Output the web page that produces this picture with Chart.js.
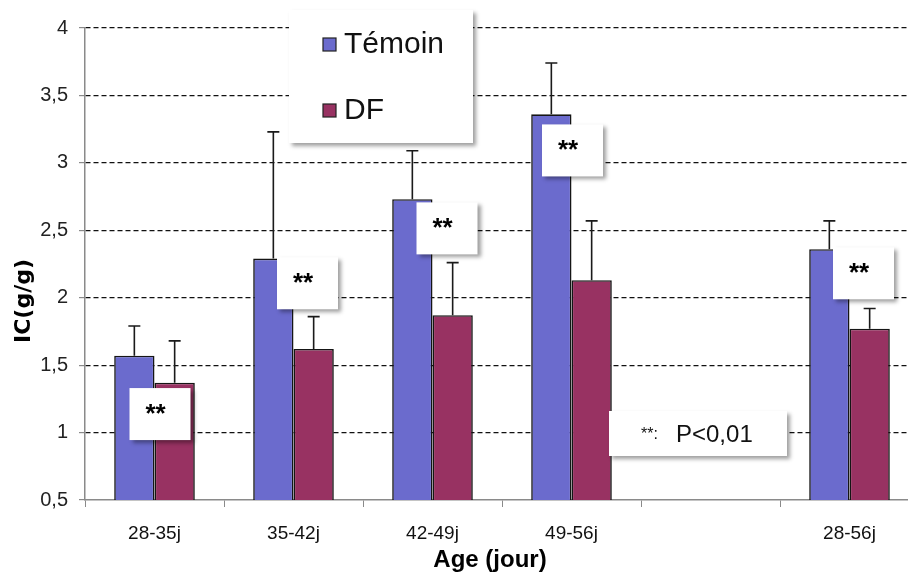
<!DOCTYPE html>
<html><head><meta charset="utf-8">
<script src="https://cdn.jsdelivr.net/npm/chart.js@4.4.1/dist/chart.umd.min.js"></script>
<style>html,body{margin:0;padding:0;overflow:hidden;background:#fff;width:908px;height:575px}#wrap{position:absolute;left:0;top:0;width:920px;height:575px}</style>
</head><body><div id="wrap"><canvas id="c" width="920" height="575"></canvas></div>
<script>
const categories = ['28-35j','35-42j','42-49j','49-56j','','28-56j'];
const seriesNames = ['Témoin','DF'];
const temoinValues = [1.57,2.29,2.73,3.36,null,2.36];
const temoinErrors = [0.22,0.94,0.36,0.38,null,0.21];
const dfValues = [1.37,1.62,1.87,2.13,null,1.77];
const dfErrors = [0.31,0.24,0.39,0.44,null,0.15];
const yTicks = [0.5,1,1.5,2,2.5,3,3.5,4];
const yTickLabels = ['0,5','1','1,5','2','2,5','3','3,5','4'];
const sigLabel = '**';
const noteStars = '**:';
const noteText = 'P<0,01';
const yTitle = 'IC(g/g)';
const xTitle = 'Age (jour)';

// annotation placement (category index, value of box top, pixel offset)
const sigBoxes = [{i:0,v:1.33,dx:-25},{i:1,v:2.30,dx:-16.5},{i:2,v:2.707,dx:-16},{i:3,v:3.285,dx:-29.5},{i:5,v:2.374,dx:-16.5}];

const colors = ['#6b6bcd','#983262'];
const errors = [temoinErrors, dfErrors];

function shadowBox(ctx,x,y,w,h){
  ctx.save();
  ctx.shadowColor='rgba(0,0,0,0.38)';
  ctx.shadowBlur=4; ctx.shadowOffsetX=3; ctx.shadowOffsetY=3;
  ctx.fillStyle='#fff';
  ctx.fillRect(x,y,w,h);
  ctx.restore();
}

const extras = {
  id:'extras',
  afterDatasetsDraw(chart){
    const ctx=chart.ctx, ys=chart.scales.y;
    chart.data.datasets.forEach((ds,di)=>{
      const meta=chart.getDatasetMeta(di);
      meta.data.forEach((bar,i)=>{
        const v=ds.data[i], e=errors[di][i];
        if(v==null||e==null) return;
        const top=ys.getPixelForValue(v+e);
        ctx.save();
        ctx.strokeStyle='#1a1a1a'; ctx.lineWidth=1.6;
        ctx.beginPath();
        ctx.moveTo(bar.x,bar.y); ctx.lineTo(bar.x,top);
        ctx.moveTo(bar.x-6,top); ctx.lineTo(bar.x+6,top);
        ctx.stroke();
        ctx.restore();
      });
    });
  },
  afterDraw(chart){
    const ctx=chart.ctx, xs=chart.scales.x, ys=chart.scales.y;
    sigBoxes.forEach(b=>{
      const x=xs.getPixelForValue(b.i)+b.dx, y=ys.getPixelForValue(b.v);
      shadowBox(ctx,x,y,61,52);
      ctx.save();
      ctx.fillStyle='#000'; ctx.font='bold 26px "Liberation Sans", Arial, sans-serif';
      ctx.textAlign='center'; ctx.textBaseline='alphabetic';
      ctx.fillText(sigLabel,x+26,y+34);
      ctx.restore();
    });
    shadowBox(ctx,289,10,184,133);
    ctx.save();
    ctx.font='30px "Liberation Sans", Arial, sans-serif';
    ctx.textBaseline='middle'; ctx.textAlign='left';
    const ly=[44,110];
    seriesNames.forEach((n,k)=>{
      ctx.fillStyle=colors[k]; ctx.fillRect(323,ly[k]-6,13,13);
      ctx.strokeStyle='#222'; ctx.lineWidth=1.2; ctx.strokeRect(323,ly[k]-6,13,13);
      ctx.fillStyle='#111'; ctx.fillText(n,344,ly[k]+1);
    });
    ctx.restore();
    shadowBox(ctx,609,411,178,45);
    ctx.save();
    ctx.fillStyle='#111'; ctx.textBaseline='alphabetic'; ctx.textAlign='left';
    ctx.font='16px "Liberation Sans", Arial, sans-serif';
    ctx.fillText(noteStars,641,439);
    ctx.font='24px "Liberation Sans", Arial, sans-serif';
    ctx.fillText(noteText,676,442);
    ctx.restore();
    ctx.save();
    ctx.fillStyle='#000';
    ctx.font='bold 22px "DejaVu Sans", Verdana, sans-serif';
    ctx.textAlign='center'; ctx.textBaseline='middle';
    ctx.translate(24,301); ctx.rotate(-Math.PI/2);
    ctx.fillText(yTitle,0,0);
    ctx.restore();
    ctx.save();
    ctx.fillStyle='#000';
    ctx.font='bold 24px "Liberation Sans Narrow", "Liberation Sans", Arial, sans-serif';
    ctx.textAlign='center'; ctx.textBaseline='middle';
    ctx.fillText(xTitle,490,560);
    ctx.restore();
  }
};

new Chart(document.getElementById('c'),{
  type:'bar',
  data:{labels:categories,datasets:[
    {label:seriesNames[0],data:temoinValues,backgroundColor:colors[0],borderColor:'#151515',borderWidth:1.6},
    {label:seriesNames[1],data:dfValues,backgroundColor:colors[1],borderColor:'#151515',borderWidth:1.6}
  ]},
  options:{
    responsive:false,animation:false,
    layout:{padding:{left:1,top:28,right:1,bottom:0}},
    plugins:{legend:{display:false},tooltip:{enabled:false}},
    datasets:{bar:{categoryPercentage:0.58,barPercentage:1.0}},
    scales:{
      x:{
        grid:{display:true,drawOnChartArea:false,drawTicks:true,tickLength:7,color:'#8a8a8a',offset:true},
        border:{display:true,color:'#8a8a8a',width:1.5},
        ticks:{color:'#111',padding:15,font:{family:'"Liberation Sans", Arial',size:19}},
        afterFit(s){s.height=75;}
      },
      y:{
        min:0.5,max:4,
        afterBuildTicks(s){s.ticks=yTicks.map(v=>({value:v}));},
        grid:{color:(c)=>c.tick&&c.tick.value===0.5?'rgba(0,0,0,0)':'#111',tickColor:'#8a8a8a',tickLength:6,lineWidth:1.2},
        border:{display:true,color:'#8a8a8a',width:1.5,dash:[5,3]},
        ticks:{color:'#222',padding:11,font:{family:'"Liberation Sans", Arial',size:20},
          callback:(v)=>{const k=yTicks.indexOf(v);return k>=0?yTickLabels[k]:'';}},
        afterFit(s){s.width=84;}
      }
    }
  },
  plugins:[extras]
});
</script></body></html>
